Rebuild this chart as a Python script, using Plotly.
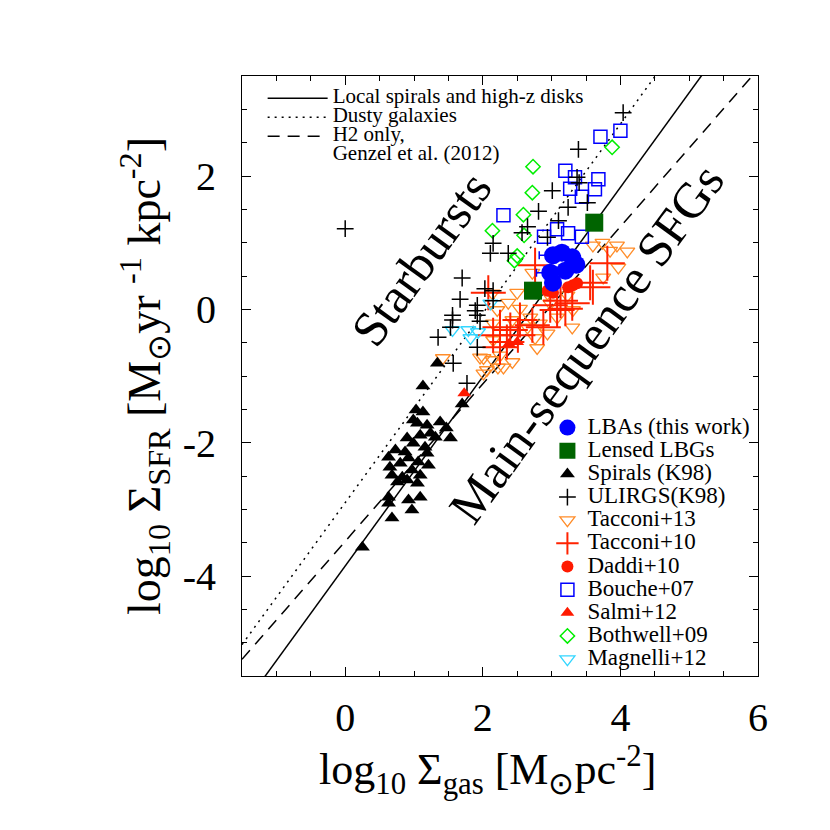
import numpy as np
import plotly.graph_objects as go

SERIF = "Liberation Serif, Times New Roman, serif"

# reference relations (slope, intercept) in log-log space
LINE_NAMES = ["Local spirals and high-z disks", "Dusty galaxies", "H2 only,"]
LINE_SLOPES = [1.42, 1.42, 1.18]
LINE_ICEPTS = [-3.85, -2.90, -3.48]
LINE_DASH = ["solid", "2px,5px", "12px,8px"]
LINE_REF = "Genzel et al. (2012)"

# data: log gas surface density (x), log SFR surface density (y)
lba_x = [3.02, 3.15, 3.30, 3.36, 3.20, 2.98, 3.02]
lba_y = [0.81, 0.85, 0.78, 0.67, 0.58, 0.55, 0.40]
lba_xerr = [0.20, 0.0, 0.0, 0.0, 0.0, 0.20, 0.0]

lensed_x = [2.73, 3.62]
lensed_y = [0.28, 1.30]

spiral_x = [1.34, 1.13, 1.70, 1.03, 1.13, 0.99, 1.38, 1.05, 1.19, 1.47, 1.24, 1.09, 0.90, 1.53,
            1.31, 0.99, 1.16, 0.73, 0.87, 1.19, 0.63, 0.92, 1.06, 0.80, 0.65, 1.21, 0.97, 0.68,
            0.83, 1.09, 0.90, 0.76, 1.05, 0.63, 1.09, 0.63, 0.92, 0.97, 0.68, 0.25]
spiral_y = [-0.81, -1.15, -1.42, -1.51, -1.54, -1.66, -1.69, -1.71, -1.74, -1.78, -1.86, -1.89,
            -1.93, -1.93, -1.92, -2.01, -2.07, -2.11, -2.14, -2.16, -2.22, -2.23, -2.29, -2.31,
            -2.37, -2.34, -2.41, -2.49, -2.52, -2.49, -2.56, -2.59, -2.61, -2.82, -2.82, -2.91,
            -2.86, -3.01, -3.13, -3.57]

ulirg_x = [0.00, 4.04, 3.39, 3.37, 3.40, 3.01, 3.24, 3.52, 2.81, 3.10, 2.65, 2.57, 2.94, 2.37,
           2.11, 2.15, 1.70, 2.03, 2.15, 1.67, 2.15, 1.92, 1.89, 1.56, 1.56, 1.92, 1.96, 1.53,
           1.35, 1.92, 1.57, 1.77]
ulirg_y = [1.21, 2.95, 2.40, 1.98, 1.90, 1.78, 1.53, 1.60, 1.47, 1.33, 1.24, 1.15, 1.08, 0.84,
           0.84, 0.99, 0.47, 0.31, 0.28, 0.15, 0.13, 0.06, -0.02, -0.09, -0.16, -0.09, -0.18,
           -0.27, -0.42, -0.57, -0.81, -1.11]

tacconi13_x = [3.74, 3.95, 4.10, 3.60, 3.85, 3.97, 3.75, 2.72, 2.50, 2.94, 3.23, 2.98, 3.08,
               3.31, 3.30, 2.14, 2.37, 2.21, 2.54, 2.69, 2.43, 2.15, 2.65, 2.83, 2.94, 2.76,
               2.79, 2.15, 2.01, 2.14, 2.25, 2.30, 2.43, 2.06, 1.42, 1.96, 2.01, 2.22]
tacconi13_y = [1.00, 0.96, 0.87, 0.96, 0.88, 0.63, 0.48, 0.55, 0.25, 0.24, 0.21, 0.09, -0.12,
               -0.01, -0.27, 0.24, 0.10, -0.01, 0.01, -0.12, -0.16, -0.21, -0.27, -0.21, -0.36,
               -0.43, -0.58, -0.46, -0.73, -0.76, -0.69, -0.87, -0.79, -0.91, -0.73, -0.72,
               -0.96, -0.87]

tacconi10_x = [2.08, 2.25, 2.40, 2.15, 2.51, 2.35, 2.72, 2.88, 2.54, 2.98, 3.08, 3.20, 3.13,
               2.25, 3.81, 3.56, 3.60, 3.30, 2.76]
tacconi10_y = [0.25, -0.27, -0.31, -0.39, -0.39, -0.49, -0.24, -0.27, -0.16, 0.06, -0.01, 0.01,
               0.13, -0.57, 0.69, 0.40, 0.33, 0.09, 0.66]

daddi_x = [3.31, 3.24, 2.94, 3.37, 3.02]
daddi_y = [0.36, 0.33, 0.28, 0.39, 0.25]

bouche_x = [4.00, 3.71, 3.20, 3.34, 3.68, 3.27, 3.63, 3.44, 2.30, 2.89, 3.08, 3.24, 3.44]
bouche_y = [2.68, 2.59, 2.08, 1.98, 1.95, 1.81, 1.80, 1.69, 1.41, 1.09, 1.20, 1.14, 1.09]

salmi_x = [1.73, 2.50, 2.38]
salmi_y = [-1.26, -0.49, -0.52]

bothwell_x = [3.88, 2.73, 2.72, 2.59, 2.14, 2.60, 2.50, 2.46]
bothwell_y = [2.43, 2.14, 1.75, 1.42, 1.18, 1.11, 0.80, 0.73]

magnelli_x = [1.56, 1.79, 1.93, 1.82, 2.11]
magnelli_y = [-0.31, -0.31, -0.34, -0.43, 0.09]


def big(text, size):
    # legend rows are packed tighter than the glyph size, as in the original
    return f'<span style="font-size:{size}px">{text}</span>'


fig = go.Figure()

xl = np.array([-1.5, 6.0])
for name, m, c, dash in zip(LINE_NAMES, LINE_SLOPES, LINE_ICEPTS, LINE_DASH):
    fig.add_trace(go.Scatter(
        x=xl, y=m * xl + c, mode="lines", name=big(name, 21), legend="legend2",
        line=dict(color="black", width=1.5, dash=dash),
    ))
# caption line under the dashed entry (no mark of its own)
fig.add_trace(go.Scatter(x=[None], y=[None], mode="lines", name=big(LINE_REF, 21),
                         legend="legend2", line=dict(color="black", width=0)))


def pts(x, y, name, symbol, size, color, rank, lw=1.3, fill=None, **kw):
    marker = dict(symbol=symbol, size=size, color=fill if fill else color,
                  line=dict(color=color, width=lw))
    fig.add_trace(go.Scatter(x=x, y=y, mode="markers", name=big(name, 23), marker=marker,
                             legendrank=rank, **kw))


# drawing order (bottom to top); legend order via legendrank
pts(tacconi13_x, tacconi13_y, "Tacconi+13", "triangle-down-open", 13, "#FF8C28", 5)
pts(tacconi10_x, tacconi10_y, "Tacconi+10", "cross-thin-open", 25, "#FF2200", 6, lw=2)
pts(magnelli_x, magnelli_y, "Magnelli+12", "triangle-down-open", 13, "#33D6FF", 11)
pts(bothwell_x, bothwell_y, "Bothwell+09", "diamond-open", 11, "#00EE00", 10, lw=1.5)
pts(bouche_x, bouche_y, "Bouche+07", "square-open", 13, "#0000FF", 8, lw=1.5)
pts(ulirg_x, ulirg_y, "ULIRGS(K98)", "cross-thin-open", 12, "black", 4, lw=1.5)
pts(spiral_x, spiral_y, "Spirals (K98)", "triangle-up", 13, "black", 3, lw=0, fill="black")
pts(salmi_x, salmi_y, "Salmi+12", "triangle-up", 12, "#FF1A00", 9, lw=0, fill="#FF1A00")
pts(daddi_x, daddi_y, "Daddi+10", "circle", 12, "#FF1A00", 7, lw=0, fill="#FF1A00")
pts(lba_x, lba_y, "LBAs (this work)", "circle", 18, "#0000FF", 1, lw=0, fill="#0000FF",
    error_x=dict(type="data", array=lba_xerr, color="#0000FF", thickness=1.5, width=4))
pts(lensed_x, lensed_y, "Lensed LBGs", "square", 18, "#006400", 2, lw=0, fill="#006400")

fig.add_annotation(x=1.10, y=0.76, text="Starbursts", textangle=-54, showarrow=False,
                   font=dict(family=SERIF, size=50, color="black"))
fig.add_annotation(x=3.50, y=-0.52, text="Main-sequence SFGs", textangle=-54, showarrow=False,
                   font=dict(family=SERIF, size=50, color="black"))
# x-axis title, set slightly left of centre as in the original
fig.add_annotation(x=0.475, y=-0.157, xref="paper", yref="paper", xanchor="center",
                   yanchor="middle", showarrow=False,
                   text="log<sub>10</sub> Σ<sub>gas</sub> [M<sub>⊙</sub>pc<sup>-2</sup>]",
                   font=dict(family=SERIF, size=44, color="black"))

axis_common = dict(
    showline=True, linecolor="black", linewidth=1, mirror="allticks",
    ticks="inside", ticklen=9, tickwidth=1, tickcolor="black",
    showgrid=False, zeroline=False,
    tickfont=dict(family=SERIF, size=40, color="black"),
    minor=dict(ticks="inside", ticklen=5, tickcolor="black", dtick=0.5, showgrid=False),
)

fig.update_xaxes(
    range=[-1.5, 6.0], tickvals=[0, 2, 4, 6], ticktext=["0", "2", "4", "6"],
    ticklabelstandoff=6,
    **axis_common,
)
fig.update_yaxes(
    range=[-5.5, 3.5], tickvals=[-4, -2, 0, 2], ticktext=["-4", "-2", "0", "2"],
    ticklabelstandoff=17,
    title=dict(text="log<sub>10</sub> Σ<sub>SFR</sub> [M<sub>⊙</sub>yr <sup>-1</sup> kpc<sup>-2</sup>]",
               font=dict(family=SERIF, size=46, color="black"), standoff=7),
    **axis_common,
)

fig.update_layout(
    width=830, height=830,
    margin=dict(l=234, r=80, t=68, b=162),
    paper_bgcolor="white", plot_bgcolor="white",
    showlegend=True,
    legend=dict(x=0.995, y=0.0, xanchor="right", yanchor="bottom",
                bgcolor="rgba(0,0,0,0)", font=dict(family=SERIF, size=15.5, color="black"),
                itemwidth=30, tracegroupgap=0),
    legend2=dict(x=0.04, y=0.987, xanchor="left", yanchor="top",
                 bgcolor="rgba(0,0,0,0)", font=dict(family=SERIF, size=12, color="black"),
                 itemwidth=60),
)

fig.write_html("out.html")
